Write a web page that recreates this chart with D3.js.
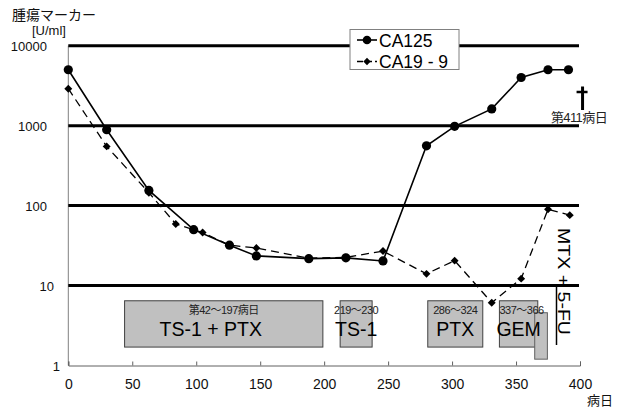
<!DOCTYPE html>
<html>
<head>
<meta charset="utf-8">
<script src="https://cdn.jsdelivr.net/npm/d3@7"></script>
<style>
  body { margin: 0; background: #fff; }
  svg { display: block; }
  text { font-family: "Liberation Sans", Arial, "Noto Sans CJK JP", sans-serif; }
</style>
</head>
<body>
<svg id="chart" width="621" height="408"></svg>
<script>
// tumour markers over time (log scale)
const days125 = [0, 30, 63, 98, 126, 147, 188, 217, 246, 280, 302, 331, 354, 375, 391];
const ca125 = [5000, 890, 155, 50, 32, 23.5, 21.7, 22.2, 20.3, 560, 980, 1620, 4000, 5000, 5000];
const days199 = [0, 30, 63, 84, 105, 126, 147, 188, 217, 246, 280, 302, 331, 354, 375, 392];
const ca199 = [2900, 550, 145, 59, 46, 32, 29.5, 22, 22.5, 27, 14, 20.5, 6.1, 12.2, 90, 76];

// treatment periods
const regimens = ["TS-1 + PTX", "TS-1", "PTX", "GEM"];
const regStart = [44, 212.5, 281, 337];
const regEnd = [199, 237.5, 324, 367];
const regDays = ["第42～197病日", "219～230", "286～324", "337～366"];
const mtxStart = 364.6, mtxEnd = 374.5;
const deathDay = 402;

const xTicks = [0, 50, 100, 150, 200, 250, 300, 350, 400];
const yTicks = [1, 10, 100, 1000, 10000];

const svg = d3.select("#chart");
const x = d3.scaleLinear().domain([0, 400]).range([68.3, 580]);
const y = d3.scaleLog().domain([1, 10000]).range([365.5, 45.7]);

// treatment boxes
const boxes = svg.append("g");
regimens.forEach((r, i) => {
  boxes.append("rect")
    .attr("x", x(regStart[i]))
    .attr("y", y(6.45))
    .attr("width", x(regEnd[i]) - x(regStart[i]))
    .attr("height", y(1.7) - y(6.45))
    .attr("fill", "#c0c0c0")
    .attr("stroke", "#404040")
    .attr("stroke-width", 1);
});
boxes.append("rect")
  .attr("x", x(mtxStart))
  .attr("y", y(4.57))
  .attr("width", x(mtxEnd) - x(mtxStart))
  .attr("height", y(1.2) - y(4.57))
  .attr("fill", "#c0c0c0")
  .attr("stroke", "#606060")
  .attr("stroke-width", 1);

regimens.forEach((r, i) => {
  const cx = (x(regStart[i]) + x(regEnd[i])) / 2;
  boxes.append("text")
    .attr("x", cx + (i === 0 ? -13 : 0))
    .attr("y", 336)
    .attr("text-anchor", "middle")
    .attr("font-size", 19.5)
    .attr("fill", "#000")
    .text(r);
  boxes.append("text")
    .attr("x", cx + (i === 3 ? 3 : 0))
    .attr("y", 314)
    .attr("text-anchor", "middle")
    .attr("font-family", "'Noto Sans CJK JP', 'Noto Sans', sans-serif")
    .attr("font-size", 11)
    .attr("letter-spacing", -0.5)
    .attr("fill", "#222")
    .text(regDays[i]);
});

// y axis line & x axis
svg.append("line")
  .attr("x1", x(0)).attr("x2", x(0))
  .attr("y1", y(10000)).attr("y2", y(1))
  .attr("stroke", "#808080").attr("stroke-width", 1);

const xAxis = svg.append("g")
  .attr("transform", `translate(0,${y(1)})`)
  .call(d3.axisBottom(x).tickValues(xTicks).tickSize(-4).tickPadding(14).tickFormat(d3.format("d")));
xAxis.select(".domain").attr("stroke", "#606060");
xAxis.selectAll(".tick line").attr("stroke", "#606060");
xAxis.selectAll(".tick text")
  .attr("font-family", "'Noto Sans', sans-serif")
  .attr("font-size", 14)
  .attr("fill", "#111");

// thick gridlines at decades
svg.append("g")
  .selectAll("line")
  .data(yTicks.slice(1))
  .join("line")
  .attr("x1", x(0)).attr("x2", 579)
  .attr("y1", (d) => y(d)).attr("y2", (d) => y(d))
  .attr("stroke", "#000").attr("stroke-width", 3);

// y labels
const yLabelRight = { 1: 60, 10: 54, 100: 47, 1000: 47, 10000: 47 };
svg.append("g")
  .selectAll("text")
  .data(yTicks)
  .join("text")
  .attr("x", (d) => yLabelRight[d])
  .attr("y", (d) => y(d) + 5)
  .attr("text-anchor", "end")
  .attr("font-size", 13)
  .attr("fill", "#111")
  .text((d) => d);

// series
const line = d3.line().x((d) => x(d[0])).y((d) => y(d[1]));
const s199 = days199.map((d, i) => [d, ca199[i]]);
const s125 = days125.map((d, i) => [d, ca125[i]]);

svg.append("path")
  .datum(s199)
  .attr("d", line)
  .attr("fill", "none")
  .attr("stroke", "#000")
  .attr("stroke-width", 1.3)
  .attr("stroke-dasharray", "8,5");
svg.append("g")
  .selectAll("path")
  .data(s199)
  .join("path")
  .attr("d", d3.symbol(d3.symbolDiamond2, 40))
  .attr("transform", (d) => `translate(${x(d[0])},${y(d[1])})`)
  .attr("fill", "#000");

svg.append("path")
  .datum(s125)
  .attr("d", line)
  .attr("fill", "none")
  .attr("stroke", "#000")
  .attr("stroke-width", 1.6);
svg.append("g")
  .selectAll("circle")
  .data(s125)
  .join("circle")
  .attr("cx", (d) => x(d[0]))
  .attr("cy", (d) => y(d[1]))
  .attr("r", 4.6)
  .attr("fill", "#000");

// MTX + 5-FU label
const mtx = svg.append("g").attr("transform", "translate(556.5,228) rotate(90)");
mtx.append("text")
  .attr("x", 0).attr("y", -1)
  .attr("font-size", 17)
  .attr("textLength", 107)
  .attr("lengthAdjust", "spacingAndGlyphs")
  .attr("fill", "#000")
  .text("MTX + 5-FU");
mtx.append("line")
  .attr("x1", 57).attr("x2", 117)
  .attr("y1", 0).attr("y2", 0)
  .attr("stroke", "#000").attr("stroke-width", 1.5);

// death marker
const dx = x(deathDay);
svg.append("line")
  .attr("x1", dx).attr("x2", dx).attr("y1", 86.5).attr("y2", 110)
  .attr("stroke", "#000").attr("stroke-width", 3);
svg.append("line")
  .attr("x1", dx - 6).attr("x2", dx + 5).attr("y1", 92).attr("y2", 92)
  .attr("stroke", "#000").attr("stroke-width", 2.5);
svg.append("text")
  .attr("x", 579).attr("y", 122)
  .attr("text-anchor", "middle")
  .attr("font-family", "'Noto Sans CJK JP', sans-serif")
  .attr("font-size", 13)
  .attr("letter-spacing", -0.6)
  .attr("fill", "#222")
  .text("第411病日");

// legend
const lg = svg.append("g");
lg.append("rect")
  .attr("x", 350).attr("y", 29.5).attr("width", 109).attr("height", 40)
  .attr("fill", "#fff").attr("stroke", "#808080").attr("stroke-width", 1);
lg.append("line").attr("x1", 357).attr("x2", 377).attr("y1", 40).attr("y2", 40)
  .attr("stroke", "#000").attr("stroke-width", 1.6);
lg.append("circle").attr("cx", 367).attr("cy", 40).attr("r", 4.3).attr("fill", "#000");
lg.append("line").attr("x1", 357).attr("x2", 377).attr("y1", 61.5).attr("y2", 61.5)
  .attr("stroke", "#000").attr("stroke-width", 1.3).attr("stroke-dasharray", "6,3");
lg.append("path").attr("d", d3.symbol(d3.symbolDiamond2, 34))
  .attr("transform", "translate(367,61.5)").attr("fill", "#000");
lg.append("text").attr("x", 379).attr("y", 46.5).attr("font-size", 17.5).attr("fill", "#000").text("CA125");
lg.append("text").attr("x", 379).attr("y", 68).attr("font-size", 17.5).attr("fill", "#000").text("CA19 - 9");

// axis titles
svg.append("text")
  .attr("x", 12).attr("y", 20)
  .attr("font-family", "'Noto Sans CJK JP', sans-serif")
  .attr("font-size", 14)
  .attr("fill", "#111")
  .text("腫瘍マーカー");
svg.append("text")
  .attr("x", 32).attr("y", 35)
  .attr("font-size", 13)
  .attr("fill", "#111")
  .text("[U/ml]");
svg.append("text")
  .attr("x", 587).attr("y", 405)
  .attr("font-family", "'Noto Sans CJK JP', sans-serif")
  .attr("font-size", 13)
  .attr("fill", "#111")
  .text("病日");
</script>
</body>
</html>
